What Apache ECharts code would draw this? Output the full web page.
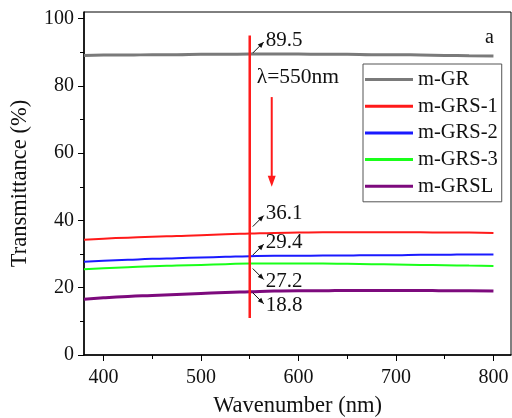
<!DOCTYPE html>
<html>
<head>
<meta charset="utf-8">
<script src="https://cdn.jsdelivr.net/npm/echarts@6/dist/echarts.min.js"></script>
<style>
  html, body { margin: 0; padding: 0; background: #fff; }
  #chart { width: 512px; height: 418px; }
</style>
</head>
<body>
<div id="chart"></div>
<script>
// Transmittance spectra of the coated samples
const wavelengths = [380, 400, 425, 450, 475, 500, 525, 550, 575, 600, 625, 650, 675, 700, 725, 750, 775, 800];
const mGR    = [89.1, 89.2, 89.2, 89.3, 89.3, 89.4, 89.4, 89.5, 89.5, 89.5, 89.4, 89.4, 89.3, 89.3, 89.2, 89.1, 89.0, 88.9];
const mGRS1  = [34.3, 34.6, 34.9, 35.2, 35.4, 35.6, 35.9, 36.1, 36.3, 36.4, 36.5, 36.5, 36.5, 36.5, 36.5, 36.4, 36.4, 36.3];
const mGRS2  = [27.7, 28.0, 28.3, 28.6, 28.8, 29.0, 29.2, 29.4, 29.5, 29.5, 29.6, 29.6, 29.7, 29.7, 29.8, 29.8, 29.9, 29.9];
const mGRS3  = [25.5, 25.8, 26.1, 26.4, 26.6, 26.8, 27.0, 27.2, 27.2, 27.2, 27.2, 27.1, 27.0, 26.9, 26.8, 26.7, 26.6, 26.5];
const mGRSL  = [16.6, 17.0, 17.4, 17.7, 18.0, 18.3, 18.6, 18.8, 19.0, 19.1, 19.1, 19.2, 19.2, 19.2, 19.2, 19.1, 19.1, 19.0];

const seriesNames = ['m-GR', 'm-GRS-1', 'm-GRS-2', 'm-GRS-3', 'm-GRSL'];
const seriesValues = [mGR, mGRS1, mGRS2, mGRS3, mGRSL];

// Reference wavelength marker
const lambda = 550;
const lambdaLineRange = [11, 95];
const lambdaArrowRange = [76.7, 50];

// Axis ticks
const xTickLabels = [400, 500, 600, 700, 800];
const xMinorTicks = [450, 550, 650, 750];
const yTickLabels = [0, 20, 40, 60, 80, 100];
const yMinorTicks = [10, 30, 50, 70, 90];

// Styling
const FONT = 'Liberation Serif';
const colors = ['#7a7a7a', '#ff1a1a', '#1a1aff', '#1aff1a', '#7d0a7d'];
const widths = [3, 2, 2, 2, 3];
// callout direction (1 = up, -1 = down) and start gap from the curve, in px
const calloutDir = [1, 1, 1, -1, -1];
const calloutGap = [1, 7, 1, 5, 1];

const li = wavelengths.indexOf(lambda);
const calloutData = seriesValues.map((arr, i) => [lambda, arr[li], calloutDir[i], calloutGap[i]]);

const chart = echarts.init(document.getElementById('chart'), null, { renderer: 'canvas' });

function arrowHead(x1, y1, x2, y2, len, half, color) {
  const dx = x2 - x1, dy = y2 - y1;
  const d = Math.sqrt(dx * dx + dy * dy) || 1;
  const ux = dx / d, uy = dy / d;
  const bx = x2 - ux * len, by = y2 - uy * len;
  return {
    type: 'polygon',
    shape: { points: [[x2, y2], [bx - uy * half, by + ux * half], [bx + uy * half, by - ux * half]] },
    style: { fill: color }
  };
}

const lineSeries = seriesNames.map((name, i) => ({
  name: name,
  type: 'line',
  data: wavelengths.map((w, k) => [w, seriesValues[i][k]]),
  smooth: true,
  symbol: 'none',
  showSymbol: false,
  lineStyle: { color: colors[i], width: widths[i] },
  itemStyle: { color: colors[i] },
  z: 3
}));

const option = {
  animation: false,
  backgroundColor: '#fff',
  grid: {
    left: 84, right: 1, top: 12, bottom: 63,
    outerBoundsMode: 'none',
    containLabel: false,
    show: true, borderColor: '#000', borderWidth: 1, backgroundColor: 'transparent'
  },
  legend: {
    data: seriesNames,
    orient: 'vertical',
    left: 363, top: 64,
    padding: [5, 4, 5, 2],
    icon: 'rect',
    itemWidth: 48, itemHeight: 3, itemGap: 5.7,
    borderColor: '#555', borderWidth: 1,
    textStyle: { fontFamily: FONT, fontSize: 20.5, lineHeight: 20, color: '#111' }
  },
  xAxis: [{
    type: 'value', min: 380, max: 818,
    name: 'Wavenumber (nm)', nameLocation: 'middle', nameGap: 40,
    nameTextStyle: { fontFamily: FONT, fontSize: 22.5, color: '#111' },
    axisLine: { show: true, lineStyle: { color: '#000', width: 1.5 } },
    axisTick: { show: true, length: 6, customValues: xTickLabels, lineStyle: { color: '#000', width: 1 } },
    axisLabel: { customValues: xTickLabels, fontFamily: FONT, fontSize: 20, color: '#111', margin: 13 },
    splitLine: { show: false }
  }, {
    type: 'value', min: 380, max: 818, position: 'bottom',
    axisLine: { show: false },
    axisTick: { show: true, length: 4, customValues: xMinorTicks, lineStyle: { color: '#000', width: 1 } },
    axisLabel: { show: false },
    splitLine: { show: false }
  }],
  yAxis: [{
    type: 'value', min: 0, max: 102,
    name: 'Transmittance (%)', nameLocation: 'middle', nameGap: 52,
    nameTextStyle: { fontFamily: FONT, fontSize: 22.5, color: '#111' },
    axisLine: { show: true, lineStyle: { color: '#000', width: 1.5 } },
    axisTick: { show: true, length: 6, customValues: yTickLabels, lineStyle: { color: '#000', width: 1 } },
    axisLabel: { customValues: yTickLabels, fontFamily: FONT, fontSize: 20, color: '#111', margin: 10 },
    splitLine: { show: false }
  }, {
    type: 'value', min: 0, max: 102, position: 'left',
    axisLine: { show: false },
    axisTick: { show: true, length: 4, customValues: yMinorTicks, lineStyle: { color: '#000', width: 1 } },
    axisLabel: { show: false },
    splitLine: { show: false }
  }],
  series: lineSeries.concat([
    {
      // vertical line at the reference wavelength
      type: 'line',
      data: lambdaLineRange.map(v => [lambda, v]),
      symbol: 'none',
      lineStyle: { color: '#ff1a1a', width: 2.5 },
      z: 4,
      silent: true
    },
    {
      // "λ=550nm" label and the downward red arrow
      type: 'custom',
      data: [[lambda, lambdaArrowRange[0], lambdaArrowRange[1]]],
      z: 5,
      silent: true,
      renderItem: function (params, api) {
        const p0 = api.coord([api.value(0), api.value(1)]);
        const p1 = api.coord([api.value(0), api.value(2)]);
        const ax = p0[0] + 22;
        const top = api.coord([api.value(0), 82.6]);
        return {
          type: 'group',
          children: [
            {
              type: 'text',
              style: {
                x: top[0] + 7, y: top[1], text: '\u03bb=' + lambda + 'nm',
                fontFamily: FONT, fontSize: 21.5, fill: '#111', verticalAlign: 'middle', align: 'left'
              }
            },
            {
              type: 'line',
              shape: { x1: ax, y1: p0[1], x2: ax, y2: p1[1] - 8 },
              style: { stroke: '#ff1a1a', lineWidth: 2 }
            },
            arrowHead(ax, p0[1], ax, p1[1], 11, 4, '#ff1a1a')
          ]
        };
      }
    },
    {
      // value callouts at the reference wavelength
      type: 'custom',
      data: calloutData,
      z: 6,
      silent: true,
      renderItem: function (params, api) {
        const p = api.coord([api.value(0), api.value(1)]);
        const dir = api.value(2);
        const gap = api.value(3);
        const x1 = p[0] + 3, y1 = p[1] - dir * gap;
        const x2 = p[0] + 14, y2 = p[1] - dir * (gap + 11);
        return {
          type: 'group',
          children: [
            {
              type: 'line',
              shape: { x1: x1, y1: y1, x2: x2, y2: y2 },
              style: { stroke: '#111', lineWidth: 1 }
            },
            arrowHead(x1, y1, x2, y2, 6, 2.5, '#111'),
            {
              type: 'text',
              style: {
                x: p[0] + 16, y: p[1] - dir * (gap + 13),
                text: api.value(1).toFixed(1),
                fontFamily: FONT, fontSize: 21, fill: '#111', verticalAlign: 'middle', align: 'left'
              }
            }
          ]
        };
      }
    }
  ]),
  graphic: [{
    type: 'text',
    left: 485, top: 28,
    style: { text: 'a', fontFamily: FONT, fontSize: 20, fill: '#111' }
  }]
};

chart.setOption(option);
</script>
</body>
</html>
